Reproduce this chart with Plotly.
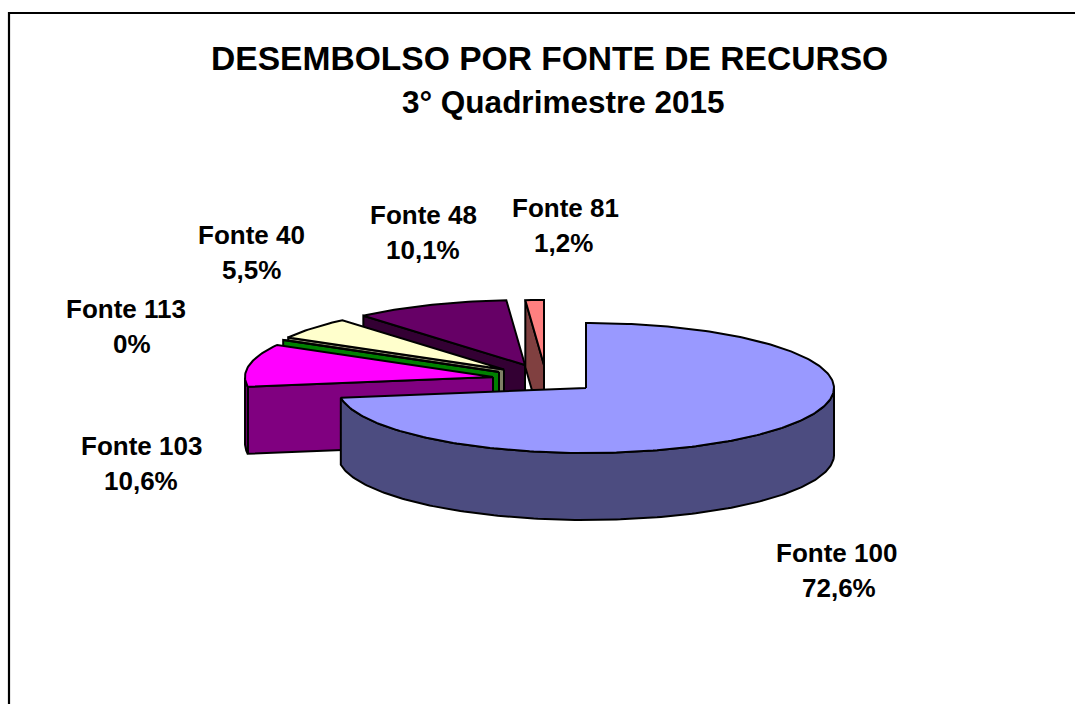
import numpy as np
import plotly.graph_objects as go

# ---- data ----
names = ["Fonte 100", "Fonte 103", "Fonte 113", "Fonte 40", "Fonte 48", "Fonte 81"]
values = [72.6, 10.6, 0.0, 5.5, 10.1, 1.2]
value_labels = ["72,6%", "10,6%", "0%", "5,5%", "10,1%", "1,2%"]
title_lines = ["DESEMBOLSO POR FONTE DE RECURSO", "3° Quadrimestre 2015"]

# ---- style ----
top_colors = ["#9999FF", "#FF00FF", "#008000", "#FFFFCC", "#660066", "#FF8080"]
wall_colors = ["#4C4C80", "#800080", "#008000", "#808066", "#330033", "#804040"]
FONT = "Liberation Sans"
CX, CY, RX, RY, DEPTH = 586, 388, 248, 65, 67
# slice pull, as offset of each wedge's tip from the pie centre
pull = [(0, 0), (-93, -11), (-87, -16), (-82, -18.5), (-61, -23), (-42, -23)]
label_anchor = [(836, 553), (141, 446), (126, 309), (251, 235), (423, 215), (565, 208)]
LINE_GAP = 35
value_shift = [3, 0, 6, 0, 0, -2]

fig = go.Figure()
LINE = dict(color="black", width=2)


def poly(xs, ys, color):
    xs = list(xs) + [xs[0]]
    ys = list(ys) + [ys[0]]
    fig.add_trace(go.Scatter(x=xs, y=ys, mode="lines", fill="toself", fillcolor=color,
                             line=LINE, hoverinfo="skip", showlegend=False))


# wedge angles, clockwise from 12 o'clock, from the values
edges = np.cumsum([0] + values) / sum(values) * 2 * np.pi

# draw back to front: last slices first, the big slice last
for i in range(len(values) - 1, -1, -1):
    a0, a1 = edges[i], edges[i + 1]
    ax, ay = CX + pull[i][0], CY + pull[i][1]
    th = np.linspace(a0, a1, max(int((a1 - a0) * 60), 2))
    rx = ax + RX * np.sin(th)
    ry = ay - RY * np.cos(th)
    # radial wall at the start edge
    poly([ax, rx[0], rx[0], ax], [ay, ry[0], ry[0] + DEPTH, ay + DEPTH], wall_colors[i])
    # radial wall at the end edge, seen only on the big slice's own side
    if np.sin(a1) > 0:
        poly([ax, rx[-1], rx[-1], ax], [ay, ry[-1], ry[-1] + DEPTH, ay + DEPTH], wall_colors[i])
    # outer rim wall: the part of the arc facing the viewer (cos(theta) < 0)
    front = np.cos(th) < 0
    if front.any():
        fx, fy = rx[front], ry[front]
        poly(list(fx) + list(fx[::-1]), list(fy) + list(fy[::-1] + DEPTH), wall_colors[i])
    # top face
    poly([ax] + list(rx), [ay] + list(ry), top_colors[i])

# ---- text ----
ann = []
for i, n in enumerate(names):
    lx, ly = label_anchor[i]
    ann.append(dict(x=lx, y=ly, text=n))
    ann.append(dict(x=lx + value_shift[i], y=ly + LINE_GAP, text=value_labels[i]))
for a in ann:
    a.update(font=dict(family=FONT, size=26, color="black", weight=700))
ann.append(dict(x=549, y=58, text=title_lines[0], font=dict(family=FONT, size=33.6, color="black", weight=700)))
ann.append(dict(x=563.5, y=102, text=title_lines[1], font=dict(family=FONT, size=31.5, color="black", weight=700)))
for a in ann:
    a.update(xref="x", yref="y", showarrow=False, xanchor="center", yanchor="middle")

fig.update_layout(
    width=1075, height=704, margin=dict(l=0, r=0, t=0, b=0),
    paper_bgcolor="white", plot_bgcolor="white", showlegend=False,
    xaxis=dict(range=[0, 1075], visible=False),
    yaxis=dict(range=[704, 0], visible=False),
    annotations=ann,
    shapes=[dict(type="rect", xref="x", yref="y", x0=9, y0=13, x1=1100, y1=730,
                 line=dict(color="black", width=2.2), layer="below")],
)
fig.write_html("out.html", post_script="document.body.style.margin='0';", config={"displayModeBar": False})
